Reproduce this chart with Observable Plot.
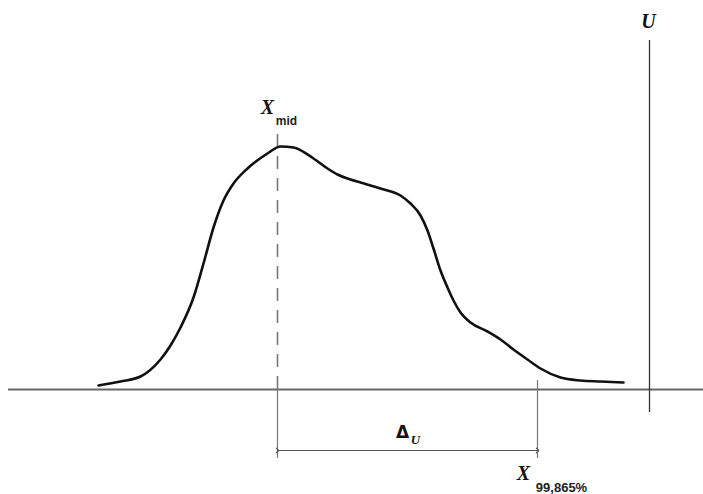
<!DOCTYPE html>
<html>
<head>
<meta charset="utf-8">
<script src="https://cdn.jsdelivr.net/npm/d3@7"></script>
<script src="https://cdn.jsdelivr.net/npm/@observablehq/plot@0.6"></script>
<style>
  html, body { margin: 0; padding: 0; background: #fff; }
  svg { display: block; }
</style>
</head>
<body>
<div id="chart"></div>
<script>
// Distribution curve: position along the measured axis and height above the baseline
const curveX = [98, 120, 140, 160, 170, 180, 193, 203, 213, 223, 233, 247, 267, 280, 293, 313, 327, 337, 350, 360, 380, 400, 410, 420, 427, 433, 440, 447, 453, 460, 470, 487, 500, 513, 527, 540, 560, 580, 600, 623];
const curveY = [4, 8, 13, 30, 44, 62, 92, 126, 162, 189, 206, 221, 236, 243, 242, 231, 221, 215, 210, 207, 201, 194, 186, 174, 159, 141, 119, 102, 89, 77, 67, 58, 50, 40, 30, 21, 12, 9, 8, 7];

// Reference positions
const xMid = 277;       // X_mid
const xUpper = 537;     // X_99,865%
const xU = 649;         // U limit
const axisStart = 8, axisEnd = 703;

// Vertical extents (heights relative to baseline)
const midTop = 261, tickBottom = -69, upperTickTop = 9;
const uTop = 349, uBottom = -23;
const deltaLevel = -61;

// Labels
const mainLabels = [
  {x: 267, y: 282, text: "X"},
  {x: 648, y: 368, text: "U"},
  {x: 523, y: -84, text: "X"}
];
const subLabels = [
  {x: 286, y: 268, text: "mid", size: 12},
  {x: 561, y: -98, text: "99,865%", size: 13}
];
const deltaLabels = [{x: 402, y: -43, text: "Δ"}];
const deltaSub = [{x: 415, y: -50, text: "U"}];

const curve = curveX.map((x, i) => ({x, y: curveY[i]}));

const chart = Plot.plot({
  width: 703,
  height: 494,
  marginTop: 0,
  marginBottom: 105,
  marginLeft: 0,
  marginRight: 0,
  x: {domain: [0, 703], axis: null},
  y: {domain: [0, 389], axis: null},
  style: {background: "#fff"},
  marks: [
    // baseline
    Plot.ruleY([0], {x1: axisStart, x2: axisEnd, stroke: "#666", strokeWidth: 2}),
    // U vertical limit
    Plot.ruleX([xU], {y1: uBottom, y2: uTop, stroke: "#333", strokeWidth: 1.3}),
    // X_mid dashed
    Plot.ruleX([xMid], {y1: 0, y2: midTop, stroke: "#777", strokeWidth: 1.6, strokeDasharray: "13,9"}),
    // X_mid tick below baseline
    Plot.ruleX([xMid], {y1: tickBottom, y2: 0, stroke: "#777", strokeWidth: 1.2}),
    // X_99,865% tick
    Plot.ruleX([xUpper], {y1: tickBottom, y2: upperTickTop, stroke: "#777", strokeWidth: 1.2}),
    // Delta_U double arrow
    Plot.link([{x1: xMid, x2: xUpper, y: deltaLevel}], {
      x1: "x1", x2: "x2", y1: "y", y2: "y",
      stroke: "#555", strokeWidth: 1.2, markerStart: "arrow", markerEnd: "arrow"
    }),
    // distribution curve
    Plot.line(curve, {x: "x", y: "y", curve: "monotone-x", stroke: "#111", strokeWidth: 2.6}),
    // labels
    Plot.text(mainLabels, {x: "x", y: "y", text: "text", fontSize: 20, fontStyle: "italic", fontWeight: "bold",
      fontFamily: "Liberation Serif", fill: "#111"}),
    Plot.text(subLabels, {x: "x", y: "y", text: "text", fontSize: "size", fontWeight: "bold",
      fontFamily: "Liberation Sans Narrow, Liberation Sans", fill: "#222"}),
    Plot.text(deltaLabels, {x: "x", y: "y", text: "text", fontSize: 17, fontWeight: "bold",
      fontFamily: "DejaVu Sans", fill: "#111"}),
    Plot.text(deltaSub, {x: "x", y: "y", text: "text", fontSize: 13, fontStyle: "italic", fontWeight: "bold",
      fontFamily: "Liberation Serif", fill: "#111"})
  ]
});
document.getElementById("chart").appendChild(chart);
</script>
</body>
</html>
